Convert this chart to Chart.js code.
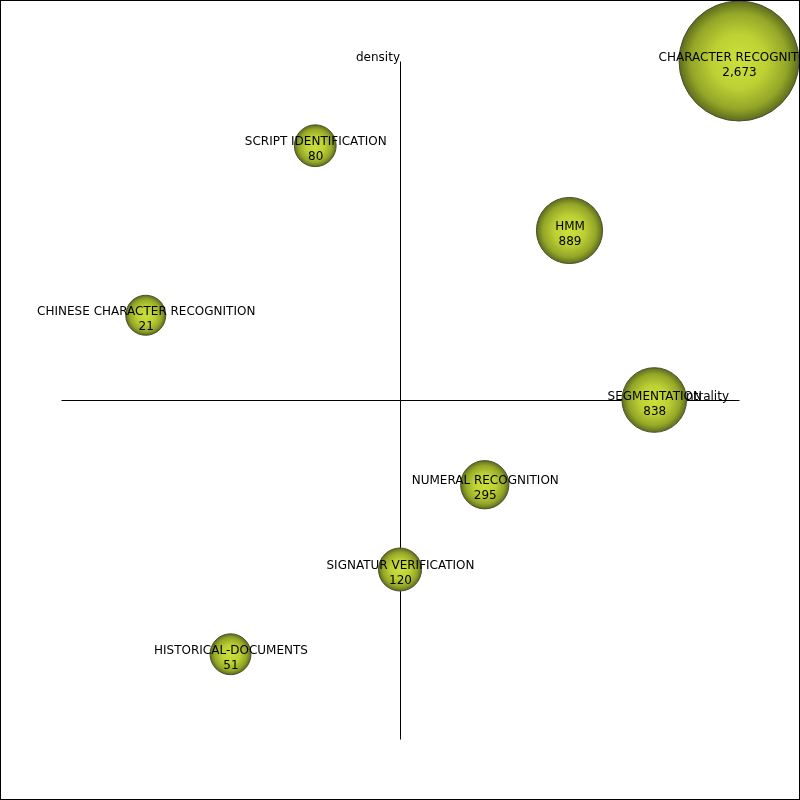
<!DOCTYPE html>
<html>
<head>
<meta charset="utf-8">
<script src="https://cdn.jsdelivr.net/npm/chart.js@4/dist/chart.umd.min.js"></script>
<style>
html,body{margin:0;padding:0;background:#fff;}
#wrap{width:800px;height:800px;position:relative;}
</style>
</head>
<body>
<div id="wrap"><canvas id="c" width="800" height="800"></canvas></div>
<script>
const themes = ["CHARACTER RECOGNITION","SCRIPT IDENTIFICATION","HMM","CHINESE CHARACTER RECOGNITION","SEGMENTATION","NUMERAL RECOGNITION","SIGNATUR VERIFICATION","HISTORICAL-DOCUMENTS"];
const centrality = [4, -1, 2, -3, 3, 1, 0, -2];
const density = [4, 3, 2, 1, 0, -1, -2, -3];
const documents = [2673, 80, 889, 21, 838, 295, 120, 51];
const xAxisTitle = "centrality";
const yAxisTitle = "density";

const minDoc = Math.min(...documents), maxDoc = Math.max(...documents);
function radiusFor(v){ return 20 + 40*(v-minDoc)/(maxDoc-minDoc); }

const FONT = '12px "DejaVu Sans", sans-serif';

const axesPlugin = {
  id:'axesPlugin',
  beforeDatasetsDraw(chart){
    const {ctx, scales:{x,y}} = chart;
    const x0 = x.getPixelForValue(0), y0 = y.getPixelForValue(0);
    ctx.save();
    ctx.strokeStyle = '#000';
    ctx.lineWidth = 1;
    ctx.beginPath();
    ctx.moveTo(Math.round(x.getPixelForValue(x.min))+0.5, Math.round(y0)+0.5);
    ctx.lineTo(Math.round(x.getPixelForValue(x.max))+0.5, Math.round(y0)+0.5);
    ctx.moveTo(Math.round(x0)+0.5, Math.round(y.getPixelForValue(y.max))+0.5);
    ctx.lineTo(Math.round(x0)+0.5, Math.round(y.getPixelForValue(y.min))+0.5);
    ctx.stroke();
    ctx.fillStyle = '#000';
    ctx.font = FONT;
    ctx.textAlign = 'right';
    ctx.textBaseline = 'alphabetic';
    ctx.fillText(yAxisTitle, x0, y.getPixelForValue(y.max));
    ctx.fillText(xAxisTitle, x.getPixelForValue(x.max) - 10, y0);
    ctx.restore();
  },
  afterDatasetsDraw(chart){
    const {ctx} = chart;
    const meta = chart.getDatasetMeta(0);
    ctx.save();
    ctx.fillStyle = '#000';
    ctx.font = FONT;
    ctx.textAlign = 'center';
    ctx.textBaseline = 'middle';
    meta.data.forEach((el,i)=>{
      ctx.fillText(themes[i], el.x + 0.5, el.y - 3.5);
      ctx.fillText(documents[i].toLocaleString('en-US'), el.x + 0.5, el.y + 11.5);
    });
    ctx.restore();
  },
  afterDraw(chart){
    const {ctx} = chart;
    ctx.save();
    ctx.strokeStyle = '#000';
    ctx.lineWidth = 1;
    ctx.strokeRect(0.5,0.5,chart.width-1,chart.height-1);
    ctx.restore();
  }
};

function gradientFor(context){
  const chart = context.chart;
  const raw = context.raw;
  if (!raw || !chart.scales || !chart.scales.x || !chart.scales.y) return '#b5c832';
  const cx = chart.scales.x.getPixelForValue(raw.x);
  const cy = chart.scales.y.getPixelForValue(raw.y);
  const r = radiusFor(raw.v);
  if (!isFinite(cx) || !isFinite(cy) || !isFinite(r)) return '#b5c832';
  const g = chart.ctx.createRadialGradient(cx, cy, 0, cx, cy, r);
  g.addColorStop(0, '#cce03c');
  g.addColorStop(0.45, '#bdd134');
  g.addColorStop(0.8, '#94a628');
  g.addColorStop(1, '#5e6c1c');
  return g;
}

const points = themes.map((t,i)=>({x:centrality[i], y:density[i], v:documents[i]}));

new Chart(document.getElementById('c'), {
  type:'bubble',
  data:{ datasets:[{
    data: points,
    backgroundColor: gradientFor,
    hoverBackgroundColor: gradientFor,
    borderColor: '#4a4f30',
    borderWidth: 1,
    radius: ctx => ctx.raw ? radiusFor(ctx.raw.v) : 20,
    hoverRadius: 0,
    clip: false
  }]},
  options:{
    responsive:false,
    animation:false,
    devicePixelRatio:1,
    layout:{padding:{left:60,right:60,top:60,bottom:60}},
    plugins:{legend:{display:false}, tooltip:{enabled:false}},
    events:[],
    scales:{
      x:{type:'linear', min:-4, max:4, display:false},
      y:{type:'linear', min:-4, max:4, display:false}
    }
  },
  plugins:[axesPlugin]
});
</script>
</body>
</html>
